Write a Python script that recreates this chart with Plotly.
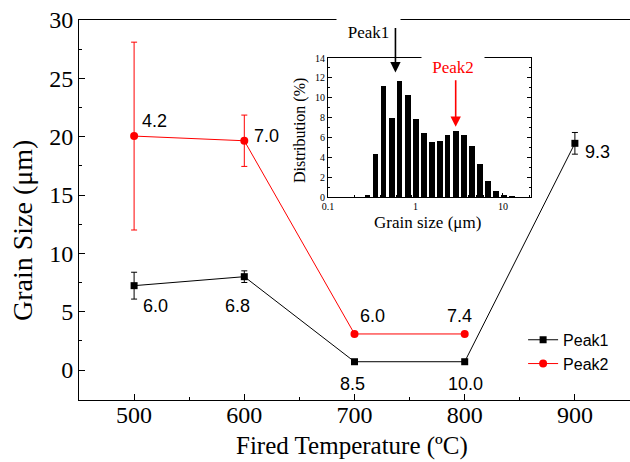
import numpy as np
import plotly.graph_objects as go

# ---- main chart data: grain size peaks vs firing temperature ----
temps_c = [500, 600, 700, 800, 900]
peak1_um = [7.23, 8.0, 0.71, 0.71, 19.43]
peak1_err = [1.15, 0.5, 0.0, 0.0, 0.93]
peak1_labels = ["6.0", "6.8", "8.5", "10.0", "9.3"]

peak2_temps_c = [500, 600, 700, 800]
peak2_um = [20.05, 19.65, 3.09, 3.09]
peak2_err = [8.05, 2.2, 0.0, 0.0]
peak2_labels = ["4.2", "7.0", "6.0", "7.4"]

# ---- inset data: grain size distribution ----
bin_size_um = [0.282, 0.348, 0.430, 0.535, 0.655, 0.814, 1.005, 1.24, 1.53, 1.89,
               2.33, 2.88, 3.56, 4.39, 5.46, 6.74, 8.32, 10.3, 12.7]
distribution_pct = [0.24, 4.3, 11.2, 7.95, 11.7, 10.3, 7.85, 6.46, 5.58, 5.6,
                    6.23, 6.6, 6.26, 5.14, 3.35, 1.62, 0.58, 0.17, 0.07]
peak1_mode_um = 0.59
peak2_mode_um = 2.88

# label pixel offsets (xshift, yshift) relative to each point
peak1_label_shift = [(21, -20), (-7, -29), (-2, -22), (1, -22), (23, -9)]
peak2_label_shift = [(20, 15), (22, 5), (18, 18), (-5, 18)]

SERIF = "Liberation Serif"
SANS = "Liberation Sans"
RED = "#ff0000"

fig = go.Figure()

fig.add_trace(go.Scatter(
    x=temps_c, y=peak1_um, name="Peak1", mode="lines+markers",
    line=dict(color="black", width=1),
    marker=dict(symbol="square", size=7, color="black"),
    error_y=dict(type="data", array=peak1_err, visible=True,
                 color="black", thickness=1, width=3),
    xaxis="x", yaxis="y",
))
fig.add_trace(go.Scatter(
    x=peak2_temps_c, y=peak2_um, name="Peak2", mode="lines+markers",
    line=dict(color=RED, width=1),
    marker=dict(symbol="circle", size=8, color=RED),
    error_y=dict(type="data", array=peak2_err, visible=True,
                 color=RED, thickness=1, width=3),
    xaxis="x", yaxis="y",
))

# inset histogram on a log10 grain-size scale
log_size = np.log10(np.array(bin_size_um))
fig.add_trace(go.Bar(
    x=log_size, y=distribution_pct, width=0.065,
    marker=dict(color="black", line=dict(width=0)),
    showlegend=False, xaxis="x2", yaxis="y2",
))

annotations = []
for t, v, lab, (dx, dy) in zip(temps_c, peak1_um, peak1_labels, peak1_label_shift):
    annotations.append(dict(x=t, y=v, xref="x", yref="y", text=lab, showarrow=False,
                            xanchor="center", yanchor="middle",
                            xshift=dx, yshift=dy, font=dict(family=SANS, size=18, color="black")))
for t, v, lab, (dx, dy) in zip(peak2_temps_c, peak2_um, peak2_labels, peak2_label_shift):
    annotations.append(dict(x=t, y=v, xref="x", yref="y", text=lab, showarrow=False,
                            xanchor="center", yanchor="middle",
                            xshift=dx, yshift=dy, font=dict(family=SANS, size=18, color="black")))


def paper_text(x, y, text, size, angle=0, color="black", **kw):
    return dict(x=x, y=y, xref="paper", yref="paper", text=text, showarrow=False,
                xanchor="center", yanchor="middle", textangle=angle,
                font=dict(family=SERIF, size=size, color=color), **kw)


# axis titles
annotations += [
    paper_text(-0.1034, 0.4447, "Grain Size (μm)", 28, angle=-90),
    paper_text(0.495, -0.121, "Fired Temperature (ºC)", 25),
    paper_text(0.6316, 0.4658, "Grain size (μm)", 17),
    paper_text(0.4011, 0.7079, "Distribution (%)", 16, angle=-90),
]

# peak tags with white boxes, then arrows on top
annotations += [
    paper_text(0.5254, 0.9684, "Peak1", 17, bgcolor="white", width=63, height=28, borderpad=0),
    paper_text(0.6788, 0.8763, "Peak2", 17, color=RED, bgcolor="white", width=62, height=22,
               borderpad=0),
    dict(x=np.log10(peak1_mode_um), y=12.55, xref="x2", yref="y2", text="",
         showarrow=True, ax=0, ay=-46, arrowhead=2, arrowsize=1.3, arrowwidth=1.6,
         arrowcolor="black"),
    dict(x=np.log10(peak2_mode_um), y=7.07, xref="x2", yref="y2", text="",
         showarrow=True, ax=0, ay=-48, arrowhead=2, arrowsize=1.3, arrowwidth=1.6,
         arrowcolor=RED),
]

minor_log = [np.log10(m * d) for d in (0.1, 1, 10) for m in range(2, 10)]

fig.update_layout(
    width=630, height=462,
    margin=dict(l=79, r=0, t=20, b=62),
    paper_bgcolor="white", plot_bgcolor="white",
    showlegend=True,
    legend=dict(x=0.806, y=0.203, xanchor="left", yanchor="top",
                bgcolor="rgba(0,0,0,0)", borderwidth=0,
                font=dict(family=SANS, size=16, color="black"),
                tracegroupgap=0),
    xaxis=dict(domain=[0, 1], range=[450, 950], dtick=100, showgrid=False, zeroline=False,
               showline=True, linecolor="black", linewidth=1, mirror=True,
               ticks="inside", ticklen=6, tickcolor="black", ticklabelstandoff=-7,
               minor=dict(dtick=50, ticks="inside", ticklen=3, tickcolor="black"),
               tickfont=dict(family=SERIF, size=24, color="black")),
    yaxis=dict(domain=[0, 1], range=[-2.57, 30], dtick=5, showgrid=False, zeroline=False,
               showline=True, linecolor="black", linewidth=1,
               ticks="inside", ticklen=6, tickcolor="black",
               minor=dict(dtick=2.5, ticks="inside", ticklen=3, tickcolor="black"),
               tickfont=dict(family=SERIF, size=24, color="black")),
    xaxis2=dict(domain=[0.4519, 0.8203], anchor="y2", range=[-1, 1.32],
                tickvals=[-1, 0, 1], ticktext=["0.1", "1", "10"],
                showgrid=False, zeroline=False,
                showline=True, linecolor="black", linewidth=1, mirror=True,
                ticks="inside", ticklen=4, tickcolor="black",
                minor=dict(tickvals=minor_log, ticks="inside", ticklen=2, tickcolor="black"),
                tickfont=dict(family=SERIF, size=10, color="black")),
    yaxis2=dict(domain=[0.5342, 0.9], anchor="x2", range=[0, 14], dtick=2,
                showgrid=False, zeroline=False,
                showline=True, linecolor="black", linewidth=1, mirror="ticks",
                ticks="inside", ticklen=4, tickcolor="black",
                minor=dict(dtick=1, ticks="inside", ticklen=2, tickcolor="black"),
                tickfont=dict(family=SERIF, size=10, color="black")),
    annotations=annotations,
    bargap=0,
)

fig.write_html("out.html")
